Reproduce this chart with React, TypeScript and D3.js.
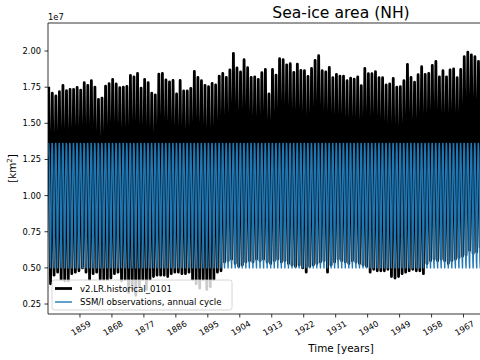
import React from "react";
import * as d3 from "d3";

// ---- data (values in units of 1e7 km^2) ----
const startYear = 1850;
// model annual maxima (read per year, 1850..1971)
const modelAnnualMax = [
  1.753, 1.708, 1.689, 1.719, 1.763, 1.726, 1.735, 1.735, 1.749, 1.73,
  1.781, 1.763, 1.795, 1.751, 1.666, 1.675, 1.758, 1.774, 1.804, 1.772,
  1.747, 1.751, 1.755, 1.832, 1.822, 1.846, 1.744, 1.804, 1.781, 1.708,
  1.696,
  1.841, 1.846, 1.8, 1.786, 1.797, 1.703, 1.797, 1.724, 1.724, 1.742,
  1.86, 1.818, 1.795, 1.763, 1.753, 1.777, 1.765, 1.827, 1.846, 1.818,
  1.869, 1.984, 1.883, 1.855, 1.94, 1.885, 1.818, 1.822, 1.804, 1.85,
  1.873, 1.703, 1.873, 1.834, 1.947, 1.94, 1.905, 1.912, 1.852, 1.91,
  1.866, 1.864, 1.825, 1.88, 1.936, 1.968, 1.864, 1.855, 1.887, 1.816,
  1.839, 1.827, 1.827, 1.795, 1.813, 1.806, 1.822, 1.76, 1.88, 1.843,
  1.843, 1.857, 1.816, 1.816, 1.765, 1.772, 1.811, 1.751, 1.753, 1.795,
  1.908, 1.818, 1.784, 1.836, 1.892, 1.839, 1.846, 1.901, 1.929, 1.822,
  1.864, 1.822, 1.869, 1.876, 1.816, 1.873, 1.961, 1.993, 1.974, 1.961,
  1.929,
];
// model annual minima (1850..1971)
const modelAnnualMin = [
  0.39, 0.45, 0.47, 0.42, 0.41, 0.41, 0.46, 0.47, 0.48, 0.5,
  0.47, 0.42, 0.46, 0.47, 0.42, 0.42, 0.42, 0.43, 0.46, 0.47,
  0.41, 0.42, 0.33, 0.36, 0.31, 0.37, 0.42, 0.35, 0.42, 0.44,
  0.45, 0.45, 0.45, 0.44, 0.46, 0.47, 0.47, 0.46, 0.46, 0.47,
  0.42, 0.39, 0.36, 0.42, 0.35, 0.37, 0.42, 0.47, 0.48, 0.54,
  0.55, 0.56, 0.53, 0.51, 0.52, 0.54, 0.55, 0.54, 0.56, 0.55,
  0.56, 0.54, 0.53, 0.55, 0.56, 0.54, 0.55, 0.53, 0.52, 0.51,
  0.52, 0.5, 0.47, 0.51, 0.52, 0.53, 0.54, 0.55, 0.47, 0.52,
  0.54, 0.56, 0.55, 0.54, 0.53, 0.55, 0.54, 0.53, 0.52, 0.51,
  0.47, 0.49, 0.48, 0.48, 0.48, 0.49, 0.44, 0.43, 0.44, 0.46,
  0.47, 0.48, 0.49, 0.48, 0.48, 0.46, 0.53, 0.55, 0.56, 0.55,
  0.56, 0.55, 0.53, 0.55, 0.56, 0.57, 0.58, 0.59, 0.62, 0.6,
  0.61, 0.64,
];
const maxMonth = 2; // March
const minMonth = 8; // September
// SSM/I observed climatological annual cycle, Jan..Dec
const obsAnnualCycle = [1.27, 1.36, 1.36, 1.3, 1.16, 0.98, 0.74, 0.55, 0.5, 0.66, 0.92, 1.13];

const xTicks = [1859, 1868, 1877, 1886, 1895, 1904, 1913, 1922, 1931, 1940, 1949, 1958, 1967];
const yTicks = [0.25, 0.5, 0.75, 1.0, 1.25, 1.5, 1.75, 2.0];
const xDomain = [1850, 2015];
const yDomain = [0.181, 2.194];

const seriesLabels = ["v2.LR.historical_0101", "SSM/I observations, annual cycle"];

// ---- layout ----
const W = 480, H = 360;
const L = 48, R = 634, T = 23, B = 314;
const FONT = "DejaVu Sans, sans-serif";

export default function App() {
  const x = d3.scaleLinear().domain(xDomain).range([L, R]);
  const y = d3.scaleLinear().domain(yDomain).range([B, T]);

  const modelPts: [number, number][] = [];
  modelAnnualMax.forEach((mx, i) => {
    const yr = startYear + i;
    modelPts.push([yr + (maxMonth + 0.5) / 12, mx]);
    modelPts.push([yr + (minMonth + 0.5) / 12, modelAnnualMin[i]]);
  });
  const obsPts: [number, number][] = [];
  modelAnnualMax.forEach((_, i) => {
    const yr = startYear + i;
    obsAnnualCycle.forEach((v, m) => obsPts.push([yr + (m + 0.5) / 12, v]));
  });

  const line = d3
    .line<[number, number]>()
    .x((d) => x(d[0]))
    .y((d) => y(d[1]));

  return (
    <svg
      width={W}
      height={H}
      style={{ position: "fixed", left: 0, top: 0, display: "block", background: "#fff" }}
      fontFamily={FONT}
    >
      <defs>
        <clipPath id="plot">
          <rect x={L} y={T} width={R - L} height={B - T} />
        </clipPath>
      </defs>
      <rect x={0} y={0} width={W} height={H} fill="#fff" />
      <g clipPath="url(#plot)">
        <path d={line(modelPts) || ""} fill="none" stroke="#000" strokeWidth={2.8} strokeLinejoin="round" />
        <path d={line(obsPts) || ""} fill="none" stroke="#1f77b4" strokeWidth={1.4} strokeLinejoin="round" />
      </g>
      {/* spines */}
      <g stroke="#000" strokeWidth={0.8} fill="none">
        <line x1={L} x2={L} y1={T} y2={B} />
        <line x1={L} x2={R} y1={B} y2={B} />
        <line x1={L} x2={R} y1={T} y2={T} />
        <line x1={R} x2={R} y1={T} y2={B} />
      </g>
      {/* y ticks */}
      {yTicks.map((t) => (
        <g key={t}>
          <line x1={L - 3.5} x2={L} y1={y(t)} y2={y(t)} stroke="#000" strokeWidth={0.8} />
          <text x={L - 7} y={y(t)} textAnchor="end" dominantBaseline="central" fontSize={8.3} fill="#000">
            {t.toFixed(2)}
          </text>
        </g>
      ))}
      <text x={L} y={20} fontSize={8.3} fill="#000">1e7</text>
      {/* x ticks */}
      {xTicks.map((t) => (
        <g key={t}>
          <line x1={x(t)} x2={x(t)} y1={B} y2={B + 3.5} stroke="#000" strokeWidth={0.8} />
          <text
            transform={`translate(${x(t) + 1},${B + 14}) rotate(-30)`}
            textAnchor="middle"
            dominantBaseline="central"
            fontSize={8.3}
            fill="#000"
          >
            {t}
          </text>
        </g>
      ))}
      <text x={(L + R) / 2} y={352} textAnchor="middle" fontSize={10.4} fill="#000">
        Time [years]
      </text>
      <text
        transform={`translate(16,${(T + B) / 2}) rotate(-90)`}
        textAnchor="middle"
        fontSize={10.4}
        fill="#000"
      >
        [km<tspan fontSize={7} dy={-4}>2</tspan><tspan dy={4}>]</tspan>
      </text>
      <text x={(L + R) / 2} y={18} textAnchor="middle" fontSize={15.6} fill="#000">
        Sea-ice area (NH)
      </text>
      {/* legend */}
      <g>
        <rect x={52} y={280} width={180} height={30} rx={2.5} fill="#fff" fillOpacity={0.8} stroke="#cccccc" strokeWidth={0.8} />
        <line x1={55} x2={72} y1={288.5} y2={288.5} stroke="#000" strokeWidth={2.8} />
        <line x1={55} x2={72} y1={302} y2={302} stroke="#1f77b4" strokeWidth={1.4} />
        <text x={80} y={288.5} dominantBaseline="central" fontSize={8.6} fill="#000">{seriesLabels[0]}</text>
        <text x={80} y={302} dominantBaseline="central" fontSize={8.6} fill="#000">{seriesLabels[1]}</text>
      </g>
    </svg>
  );
}
